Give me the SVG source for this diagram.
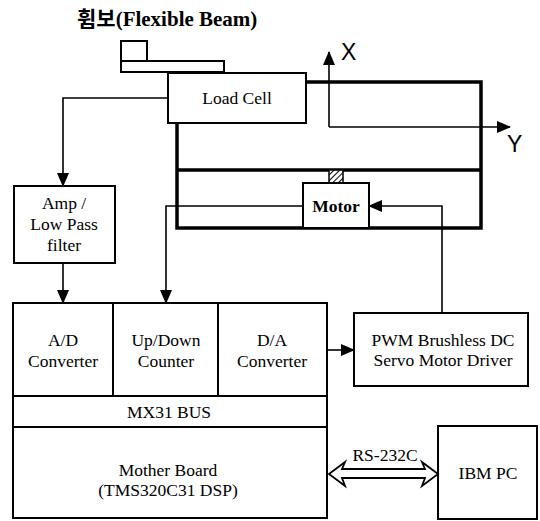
<svg xmlns="http://www.w3.org/2000/svg" width="540" height="521" viewBox="0 0 540 521">
<style>
.box{fill:#fff;stroke:#000;stroke-width:2}
.t{font-family:"Liberation Serif","Times New Roman",serif;font-size:17.5px;text-anchor:middle;fill:#000}
.w{fill:none;stroke:#000;stroke-width:1.6}
.frame{fill:none;stroke:#000;stroke-width:3.5}
.ax{font-family:"Liberation Sans",Arial,sans-serif;font-size:23px;fill:#000}
.title{font-family:"Liberation Serif","Times New Roman",serif;font-size:21px;font-weight:bold;fill:#000}
.kr{font-family:"Noto Sans CJK KR",sans-serif;font-size:21px;font-weight:bold}
</style>
<defs>
<marker id="ah" markerUnits="userSpaceOnUse" markerWidth="14" markerHeight="12" refX="13" refY="6" orient="auto">
<path d="M0,0 L14,6 L0,12 Z" fill="#000"/>
</marker>
<pattern id="hatch" patternUnits="userSpaceOnUse" width="4" height="4" patternTransform="rotate(45)">
<rect width="4" height="4" fill="#fff"/>
<line x1="0" y1="0" x2="0" y2="4" stroke="#000" stroke-width="2"/>
</pattern>
</defs>

<text class="title" x="77" y="26"><tspan class="kr">휨보</tspan><tspan>(Flexible Beam)</tspan></text>

<g id="beam">
<rect class="box" x="121" y="41" width="26" height="20"/>
<rect class="box" x="121" y="61" width="103" height="11"/>
</g>

<g id="frame">
<path class="frame" d="M306,82 H481 V228 H177 V123 M177,170 H481"/>
<rect x="329" y="170" width="14" height="13" fill="url(#hatch)" stroke="#000" stroke-width="1.5"/>
</g>

<g id="axes">
<line class="w" x1="329" y1="127" x2="329" y2="52" marker-end="url(#ah)"/>
<line class="w" x1="329" y1="127" x2="510" y2="127" marker-end="url(#ah)"/>
<text class="ax" x="341" y="60">X</text>
<text class="ax" x="507" y="152">Y</text>
</g>

<g id="loadcell">
<rect class="box" x="168" y="73" width="138" height="50"/>
<text class="t" x="237" y="104">Load Cell</text>
</g>

<g id="motor">
<rect class="box" x="303" y="183" width="66" height="45"/>
<text class="t" x="336" y="212" font-weight="bold" font-size="16">Motor</text>
</g>

<g id="amp">
<rect class="box" x="14" y="186" width="101" height="77"/>
<text class="t" x="64" y="209">Amp /</text>
<text class="t" x="64" y="230">Low Pass</text>
<text class="t" x="64" y="251">filter</text>
</g>

<g id="mainboard">
<rect class="box" x="13" y="303" width="314" height="215"/>
<line class="box" x1="113" y1="303" x2="113" y2="396"/>
<line class="box" x1="218" y1="303" x2="218" y2="396"/>
<line class="box" x1="13" y1="396" x2="327" y2="396"/>
<line class="box" x1="13" y1="427" x2="327" y2="427"/>
</g>
<g id="ad">
<text class="t" x="63" y="346">A/D</text>
<text class="t" x="63" y="367">Converter</text>
</g>
<g id="counter">
<text class="t" x="166" y="346">Up/Down</text>
<text class="t" x="166" y="367">Counter</text>
</g>
<g id="da">
<text class="t" x="272" y="346">D/A</text>
<text class="t" x="272" y="367">Converter</text>
</g>
<g id="bus">
<text class="t" x="169" y="418">MX31 BUS</text>
</g>
<g id="mother">
<text class="t" x="168" y="476" font-size="17">Mother Board</text>
<text class="t" x="168" y="496" font-size="17">(TMS320C31 DSP)</text>
</g>

<g id="pwm">
<rect class="box" x="354" y="313" width="174" height="73"/>
<text class="t" x="443" y="346">PWM Brushless DC</text>
<text class="t" x="443" y="366">Servo Motor Driver</text>
</g>

<g id="ibmpc">
<rect class="box" x="438" y="426" width="99" height="93"/>
<text class="t" x="488" y="479">IBM PC</text>
</g>

<g id="connectors">
<path class="w" d="M168,98 H63 V186" marker-end="url(#ah)"/>
<path class="w" d="M63,263 V303" marker-end="url(#ah)"/>
<path class="w" d="M303,206 H166 V303" marker-end="url(#ah)"/>
<path class="w" d="M442,313 V206 H369" marker-end="url(#ah)"/>
<path class="w" d="M327,350 H354" marker-end="url(#ah)"/>
<polygon points="329,474 345,462 342,469 425,469 422,462 438,474 422,486 425,478 342,478 345,486" fill="#fff" stroke="#000" stroke-width="1.8" stroke-linejoin="miter"/>
<text class="t" x="385" y="461" font-size="18">RS-232C</text>
</g>
</svg>
